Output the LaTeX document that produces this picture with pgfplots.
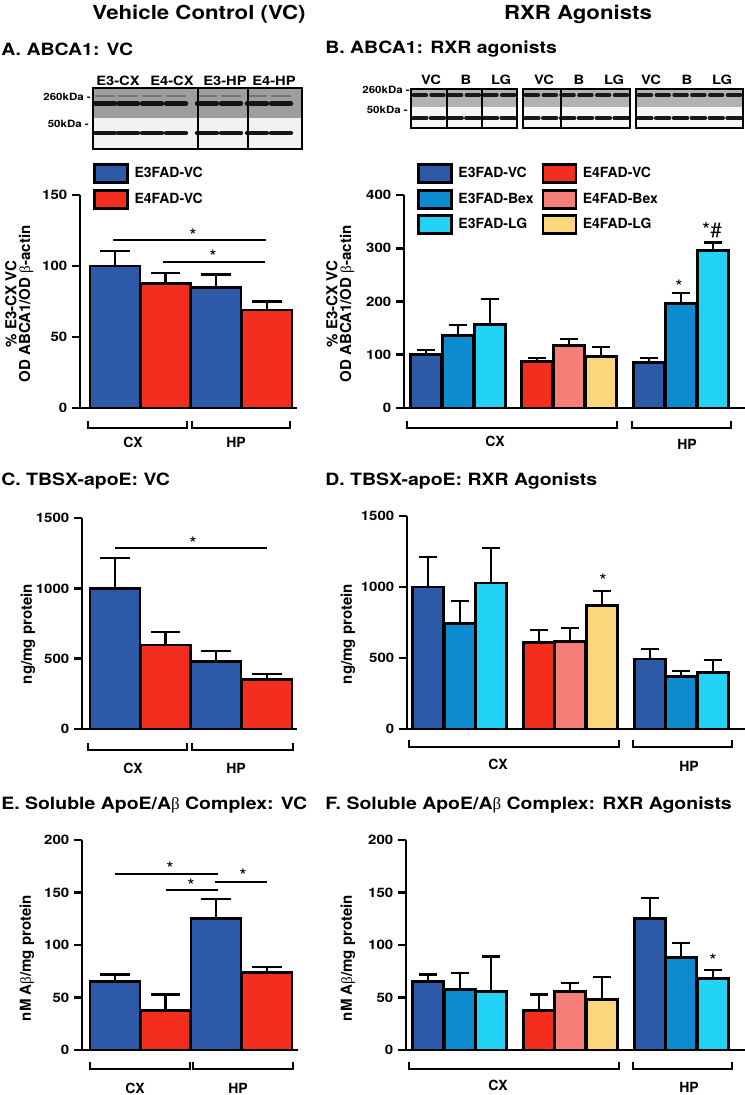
\documentclass[border=0pt]{standalone}
\usepackage{pgfplots}
\pgfplotsset{compat=1.18}
\usepackage{fontspec}
\setmainfont{TeX Gyre Heros}
\newfontfamily\wide{TeX Gyre Heros}[FakeStretch=1.15]
\newfontfamily\grk{Liberation Serif}
\newcommand{\bet}{{\grk\mdseries β}}
\definecolor{cE3}{HTML}{2C5AA9}
\definecolor{cE4}{HTML}{F42E1E}
\definecolor{cBex}{HTML}{0C8BCF}
\definecolor{cLG}{HTML}{22D3F5}
\definecolor{cE4Bex}{HTML}{F77F7A}
\definecolor{cE4LG}{HTML}{FDD57B}
\newcommand{\tf}{\bfseries\fontsize{10.5}{12}\selectfont}
\newcommand{\tkf}{\wide\bfseries\fontsize{9.8}{11}\selectfont}
\newcommand{\ylf}{\bfseries\fontsize{11.3}{13}\selectfont}
\newcommand{\blf}{\wide\bfseries\fontsize{9.6}{11}\selectfont}
\newcommand{\hf}{\wide\bfseries\fontsize{12.7}{15}\selectfont}
\newcommand{\stf}{\fontsize{14}{16}\selectfont}
\pgfplotsset{
 pan/.style={scale only axis, anchor=south west, ybar,
   axis x line*=bottom, axis y line*=left,
   axis line style={line width=2.2pt, black},
   xtick=\empty, tick align=outside, major tick length=6pt,
   ytick style={line width=2.2pt, black},
   yticklabel style={font=\tkf},
   /pgf/number format/assume math mode=true,
   /pgf/number format/1000 sep={},
   ymin=0, clip=false,
   legend cell align=left,
   legend image code/.code={\draw[##1, draw=black, line width=2.2pt] (0pt,-6.75pt) rectangle (24.75pt,6.75pt);},
   legend style={draw=none, fill=none, font=\tf, inner sep=0pt, row sep=3.3pt,
     /tikz/every odd column/.append style={column sep=2pt},
     /tikz/every even column/.append style={column sep=4pt}},
 },
 bA/.style={forget plot, bar shift=0pt, bar width=50, draw=black, line width=2.2pt,
   error bars/y dir=plus, error bars/y explicit,
   error bars/error bar style={line width=1.6pt, black, solid},
   error bars/error mark options={rotate=90, line width=1.8pt, black, mark size=11pt}},
 bB/.style={forget plot, bar shift=0pt, bar width=31, draw=black, line width=2.2pt,
   error bars/y dir=plus, error bars/y explicit,
   error bars/error bar style={line width=1.6pt, black, solid},
   error bars/error mark options={rotate=90, line width=1.8pt, black, mark size=7pt}},
}
\newcommand{\brk}[3]{\draw[line width=2.2pt] (#1,#3-7) -- (#1,#3) -- (#2,#3) -- (#2,#3-7);}
\begin{document}
\begin{tikzpicture}[x=0.75pt,y=-0.75pt]
\path[use as bounding box] (0,0) rectangle (745,1095);
% ---------- headings ----------
\node[font=\wide\bfseries\fontsize{14.5}{17}\selectfont] at (199,14) {Vehicle Control (VC)};
\node[font=\wide\bfseries\fontsize{14.5}{17}\selectfont] at (578,14) {RXR Agonists};
\node[anchor=west, font=\hf, inner sep=0pt] at (1,49) {A. ABCA1: VC};
\node[anchor=west, font=\hf, inner sep=0pt] at (325,49) {B. ABCA1: RXR agonists};
\node[anchor=west, font=\hf, inner sep=0pt] at (1,481) {C. TBSX-apoE: VC};
\node[anchor=west, font=\hf, inner sep=0pt] at (325,481) {D. TBSX-apoE: RXR Agonists};
\node[anchor=west, font=\hf, inner sep=0pt] at (1,805) {E. Soluble ApoE/A\bet{} Complex: VC};
\node[anchor=west, font=\hf, inner sep=0pt] at (325,805) {F. Soluble ApoE/A\bet{} Complex: RXR Agonists};
% ---------- blot A ----------
\fill[black!38] (93,88) rectangle (302,118);
\fill[black!5] (93,118) rectangle (302,149);
\foreach \x in {105,128,152,176,207,231,257,281}{
  \draw[line width=2.2pt, black!55, line cap=round] (\x-9,96) -- (\x+9,96);
  \draw[line width=3.2pt, black!92, line cap=round] (\x-10,103.5) -- (\x+10,103.5);
  \draw[line width=3.2pt, black!92, line cap=round] (\x-10,133) -- (\x+10,133);
}
\draw[line width=1.2pt] (93,88) rectangle (302,149);
\draw[line width=1pt] (198,88) -- (198,149) (248,88) -- (248,149);
\foreach \x/\t in {118/E3-CX,172/E4-CX,225/E3-HP,274/E4-HP}{\node[font=\blf] at (\x,81) {\t};}
\node[anchor=east, font=\wide\bfseries\fontsize{7.5}{9}\selectfont, inner sep=0pt] at (91,97) {260kDa -};
\node[anchor=east, font=\wide\bfseries\fontsize{7.5}{9}\selectfont, inner sep=0pt] at (89,124) {50kDa -};
% ---------- blot B ----------
\foreach \a/\b in {411/517,523/630,636/743}{
  \fill[black!30] (\a,89) rectangle (\b,107);
  \fill[black!3] (\a,107) rectangle (\b,128);
  \foreach \k in {0,...,5}{
    \draw[line width=2.6pt, black!90, line cap=round] ({\a+(\b-\a)*(\k+0.5)/6-6.5},95) -- ({\a+(\b-\a)*(\k+0.5)/6+6.5},95);
    \draw[line width=2.6pt, black!90, line cap=round] ({\a+(\b-\a)*(\k+0.5)/6-7},118) -- ({\a+(\b-\a)*(\k+0.5)/6+7},118);
  }
  \draw[line width=1.2pt] (\a,89) rectangle (\b,128);
}
\draw[line width=1pt] (447,89) -- (447,128) (482,89) -- (482,128) (561,89) -- (561,128);
\foreach \x/\t in {431/VC,466/B,501/LG,544/VC,579/B,614/LG,651/VC,687/B,722/LG}{\node[font=\blf] at (\x,80) {\t};}
\node[anchor=east, font=\wide\bfseries\fontsize{7.5}{9}\selectfont, inner sep=0pt] at (410,90) {260kDa -};
\node[anchor=east, font=\wide\bfseries\fontsize{7.5}{9}\selectfont, inner sep=0pt] at (408,110) {50kDa -};
% ---------- panel A ----------
\begin{axis}[pan, at={(60pt,-306pt)}, width=162.75pt, height=159.75pt,
  xmin=80, xmax=297, ymax=150, ytick={0,50,100,150},
  legend style={at={(axis description cs:0.06,1.15)}, anchor=north west}]
\addplot[fill=cE3, bA] coordinates {(115,100) +- (0,10.5) (216,85) +- (0,9)};
\addplot[fill=cE4, bA] coordinates {(165.5,88) +- (0,7) (267,69) +- (0,6)};
\addlegendimage{fill=cE3}\addlegendentry{E3FAD-VC}
\addlegendimage{fill=cE4}\addlegendentry{E4FAD-VC}
\end{axis}
% ---------- panel B ----------
\begin{axis}[pan, at={(303pt,-306pt)}, width=255.75pt, height=159.75pt,
  xmin=404, xmax=745, ymax=400, ytick={0,100,200,300,400},
  legend columns=2,
  legend style={at={(axis description cs:0.038,1.15)}, anchor=north west}]
\addplot[fill=cE3, bB] coordinates {(426,100) +- (0,9) (649,86) +- (0,8)};
\addplot[fill=cBex, bB] coordinates {(458,137) +- (0,19) (681,197) +- (0,19)};
\addplot[fill=cLG, bB] coordinates {(490,156) +- (0,49) (713,296) +- (0,15)};
\addplot[fill=cE4, bB] coordinates {(537,88) +- (0,6)};
\addplot[fill=cE4Bex, bB] coordinates {(569,117) +- (0,13)};
\addplot[fill=cE4LG, bB] coordinates {(601,96) +- (0,19)};
\addlegendimage{fill=cE3}\addlegendentry{E3FAD-VC}
\addlegendimage{fill=cE4}\addlegendentry{E4FAD-VC}
\addlegendimage{fill=cBex}\addlegendentry{E3FAD-Bex}
\addlegendimage{fill=cE4Bex}\addlegendentry{E4FAD-Bex}
\addlegendimage{fill=cLG}\addlegendentry{E3FAD-LG}
\addlegendimage{fill=cE4LG}\addlegendentry{E4FAD-LG}
\end{axis}
% ---------- panel C ----------
\begin{axis}[pan, at={(61.5pt,-546.75pt)}, width=161.25pt, height=158.25pt,
  xmin=82, xmax=297, ymax=1500, ytick={0,500,1000,1500}]
\addplot[fill=cE3, bA] coordinates {(115,1000) +- (0,216) (216,477) +- (0,78)};
\addplot[fill=cE4, bA] coordinates {(165.5,597) +- (0,93) (267,355) +- (0,36)};
\end{axis}
% ---------- panel D ----------
\begin{axis}[pan, at={(305.25pt,-546.75pt)}, width=253.5pt, height=159.75pt,
  xmin=407, xmax=745, ymax=1500, ytick={0,500,1000,1500}]
\addplot[fill=cE3, bB] coordinates {(428,1000) +- (0,211) (650,493) +- (0,70)};
\addplot[fill=cBex, bB] coordinates {(460,746) +- (0,155) (681,373) +- (0,35)};
\addplot[fill=cLG, bB] coordinates {(491,1028) +- (0,247) (713,401) +- (0,85)};
\addplot[fill=cE4, bB] coordinates {(539,606) +- (0,91)};
\addplot[fill=cE4Bex, bB] coordinates {(570,613) +- (0,98)};
\addplot[fill=cE4LG, bB] coordinates {(602,873) +- (0,99)};
\end{axis}
% ---------- panel E ----------
\begin{axis}[pan, at={(61.5pt,-787.5pt)}, width=162pt, height=157.5pt,
  xmin=82, xmax=298, ymax=200, ytick={0,50,100,150,200}]
\addplot[fill=cE3, bA] coordinates {(115,65) +- (0,7) (216,125) +- (0,19)};
\addplot[fill=cE4, bA] coordinates {(165.5,37.5) +- (0,15.5) (267,73.5) +- (0,5.5)};
\end{axis}
% ---------- panel F ----------
\begin{axis}[pan, at={(304.5pt,-787.5pt)}, width=254.25pt, height=157.5pt,
  xmin=406, xmax=745, ymax=200, ytick={0,50,100,150,200}]
\addplot[fill=cE3, bB] coordinates {(428,65) +- (0,7) (650,125) +- (0,19.5)};
\addplot[fill=cBex, bB] coordinates {(460,58) +- (0,15.5) (681,88) +- (0,14)};
\addplot[fill=cLG, bB] coordinates {(491,56) +- (0,33) (713,68.5) +- (0,7.5)};
\addplot[fill=cE4, bB] coordinates {(539,38) +- (0,15)};
\addplot[fill=cE4Bex, bB] coordinates {(570,55.5) +- (0,8.5)};
\addplot[fill=cE4LG, bB] coordinates {(602,48.5) +- (0,21)};
\end{axis}
% ---------- y labels ----------
\node[rotate=90, font=\ylf] at (11,304) {\% E3-CX VC};
\node[rotate=90, font=\ylf] at (26,304) {OD ABCA1/OD \bet-actin};
\node[rotate=90, font=\ylf] at (332,304) {\% E3-CX VC};
\node[rotate=90, font=\ylf] at (347,304) {OD ABCA1/OD \bet-actin};
\node[rotate=90, font=\ylf] at (28,634) {ng/mg protein};
\node[rotate=90, font=\ylf] at (348,634) {ng/mg protein};
\node[rotate=90, font=\ylf] at (27,958) {nM A\bet/mg protein};
\node[rotate=90, font=\ylf] at (348,958) {nM A\bet/mg protein};
% ---------- brackets ----------
\brk{88}{187}{428}\brk{192}{290}{428}
\node[font=\tf] at (133,442) {CX};\node[font=\tf] at (236,442) {HP};
\brk{407}{617}{428}\brk{632}{731}{428}
\node[font=\tf] at (495,441) {CX};\node[font=\tf] at (687,444) {HP};
\brk{88}{187}{750}\brk{192}{293}{750}
\node[font=\tf] at (133,768) {CX};\node[font=\tf] at (236,768) {HP};
\brk{409}{619}{747}\brk{633}{732}{747}
\node[font=\tf] at (498,764) {CX};\node[font=\tf] at (689,766) {HP};
\brk{90}{190}{1069}\brk{193}{293}{1069}
\node[font=\tf] at (135,1088) {CX};\node[font=\tf] at (238,1088) {HP};
\brk{409}{619}{1069}\brk{633}{732}{1069}
\node[font=\tf] at (498,1085) {CX};\node[font=\tf] at (689,1087) {HP};
% ---------- significance ----------
\draw[line width=0.9pt] (113,240) -- (266,240) (163,262) -- (265,262);
\node[font=\stf] at (193,236) {*};\node[font=\stf] at (213,257) {*};
\draw[line width=0.9pt] (115,548) -- (267,548);
\node[font=\stf] at (193,544) {*};
\draw[line width=0.9pt] (115,874) -- (218,874) (166,890) -- (218,890) (215,882) -- (267,882);
\node[font=\stf] at (170,869) {*};\node[font=\stf] at (191,886) {*};\node[font=\stf] at (243,876) {*};
\node[font=\stf] at (679,287) {*};
\node[font=\fontsize{15.5}{17}\selectfont] at (712,230) {*\#};
\node[font=\stf] at (603,581) {*};
\node[font=\stf] at (713,961) {*};
\end{tikzpicture}
\end{document}
